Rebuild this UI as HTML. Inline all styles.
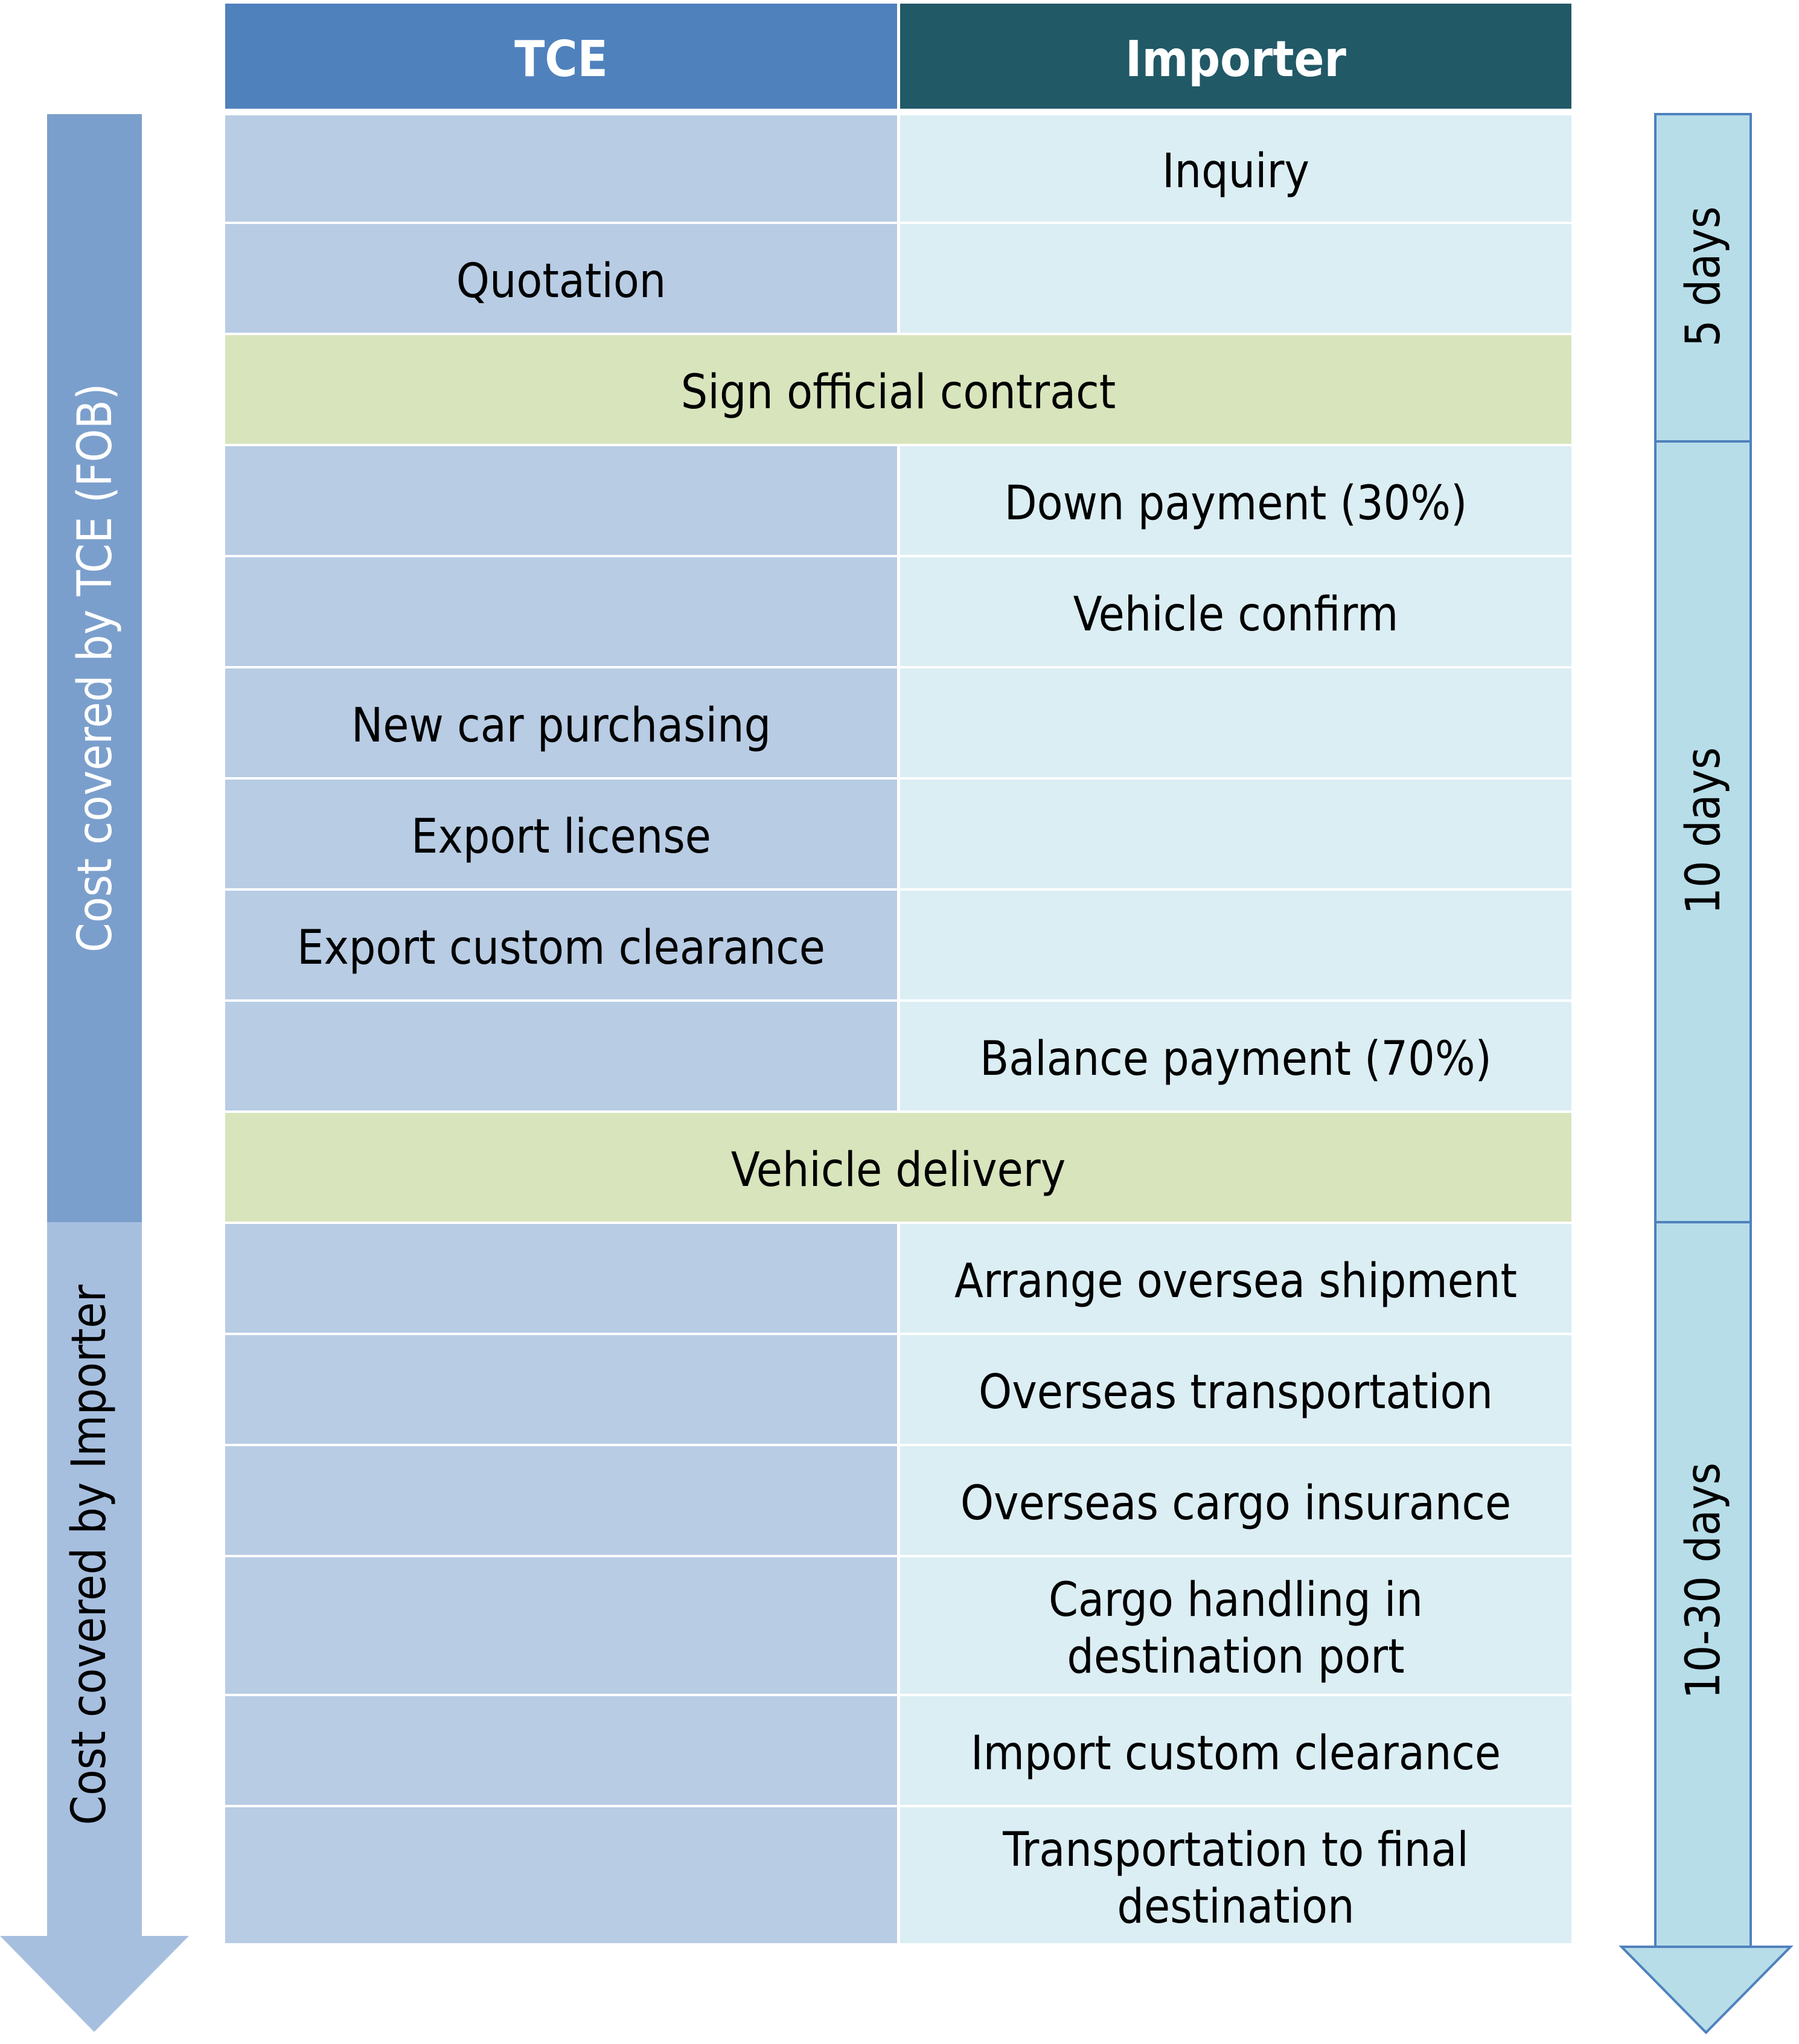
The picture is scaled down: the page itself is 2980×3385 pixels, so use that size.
<!DOCTYPE html>
<html><head><meta charset="utf-8"><style>
html,body{margin:0;padding:0;background:#fff;}
body{width:2980px;height:3385px;position:relative;overflow:hidden;font-family:"DejaVu Sans Condensed","Liberation Sans",sans-serif;}
.c{position:absolute;display:flex;align-items:center;justify-content:center;text-align:center;font-size:78px;color:#000;line-height:1.2;box-sizing:border-box;padding-top:12px;}
.L{background:#b8cce4;}
.R{background:#dbeef4;}
.G{background:#d8e4bc;}
.rot{position:absolute;white-space:nowrap;font-size:78px;transform:translate(-50%,-50%) rotate(-90deg);}
</style></head><body>
<div class="c" style="left:373px;top:6px;width:1113px;height:174px;background:#4f81bd;color:#fff;font-weight:bold;font-size:82px;">TCE</div>
<div class="c" style="left:1491px;top:6px;width:1112px;height:174px;background:#215967;color:#fff;font-weight:bold;font-size:82px;">Importer</div>

<div class="c L" style="left:373px;top:191px;width:1113px;height:176px;"></div>
<div class="c R" style="left:1491px;top:191px;width:1112px;height:176px;">Inquiry</div>
<div class="c L" style="left:373px;top:371px;width:1113px;height:180px;">Quotation</div>
<div class="c R" style="left:1491px;top:371px;width:1112px;height:180px;"></div>
<div class="c G" style="left:373px;top:555px;width:2230px;height:180px;">Sign official contract</div>
<div class="c L" style="left:373px;top:739px;width:1113px;height:180px;"></div>
<div class="c R" style="left:1491px;top:739px;width:1112px;height:180px;">Down payment (30%)</div>
<div class="c L" style="left:373px;top:923px;width:1113px;height:180px;"></div>
<div class="c R" style="left:1491px;top:923px;width:1112px;height:180px;">Vehicle confirm</div>
<div class="c L" style="left:373px;top:1107px;width:1113px;height:180px;">New car purchasing</div>
<div class="c R" style="left:1491px;top:1107px;width:1112px;height:180px;"></div>
<div class="c L" style="left:373px;top:1291px;width:1113px;height:180px;">Export license</div>
<div class="c R" style="left:1491px;top:1291px;width:1112px;height:180px;"></div>
<div class="c L" style="left:373px;top:1475px;width:1113px;height:180px;">Export custom clearance</div>
<div class="c R" style="left:1491px;top:1475px;width:1112px;height:180px;"></div>
<div class="c L" style="left:373px;top:1659px;width:1113px;height:180px;"></div>
<div class="c R" style="left:1491px;top:1659px;width:1112px;height:180px;">Balance payment (70%)</div>
<div class="c G" style="left:373px;top:1843px;width:2230px;height:180px;">Vehicle delivery</div>
<div class="c L" style="left:373px;top:2027px;width:1113px;height:180px;"></div>
<div class="c R" style="left:1491px;top:2027px;width:1112px;height:180px;">Arrange oversea shipment</div>
<div class="c L" style="left:373px;top:2211px;width:1113px;height:180px;"></div>
<div class="c R" style="left:1491px;top:2211px;width:1112px;height:180px;">Overseas transportation</div>
<div class="c L" style="left:373px;top:2395px;width:1113px;height:180px;"></div>
<div class="c R" style="left:1491px;top:2395px;width:1112px;height:180px;">Overseas cargo insurance</div>
<div class="c L" style="left:373px;top:2579px;width:1113px;height:226px;"></div>
<div class="c R" style="left:1491px;top:2579px;width:1112px;height:226px;">Cargo handling in<br>destination port</div>
<div class="c L" style="left:373px;top:2809px;width:1113px;height:180px;"></div>
<div class="c R" style="left:1491px;top:2809px;width:1112px;height:180px;">Import custom clearance</div>
<div class="c L" style="left:373px;top:2993px;width:1113px;height:225px;"></div>
<div class="c R" style="left:1491px;top:2993px;width:1112px;height:225px;">Transportation to final<br>destination</div>

<svg width="2980" height="3385" style="position:absolute;left:0;top:0;">
 <rect x="78" y="189" width="157" height="1835" fill="#7b9fcc"/>
 <polygon points="78,2024 235,2024 235,3206 313,3206 156,3365 0,3206 78,3206" fill="#a7bfdf"/>
 <rect x="2742" y="189" width="158" height="3035" fill="#b7dde8" stroke="#4f81bd" stroke-width="4"/>
 <line x1="2742" y1="731" x2="2900" y2="731" stroke="#4f81bd" stroke-width="4"/>
 <line x1="2742" y1="2024" x2="2900" y2="2024" stroke="#4f81bd" stroke-width="4"/>
 <polygon points="2686,3224 2966,3224 2826,3366" fill="#b7dde8" stroke="#4f81bd" stroke-width="4"/>
</svg>
<div class="rot" style="left:158px;top:1106px;color:#fff;">Cost covered by TCE (FOB)</div>
<div class="rot" style="left:148px;top:2575px;color:#000;">Cost covered by Importer</div>
<div class="rot" style="left:2822px;top:458px;">5 days</div>
<div class="rot" style="left:2822px;top:1376px;">10 days</div>
<div class="rot" style="left:2822px;top:2618px;">10-30 days</div>
</body></html>
